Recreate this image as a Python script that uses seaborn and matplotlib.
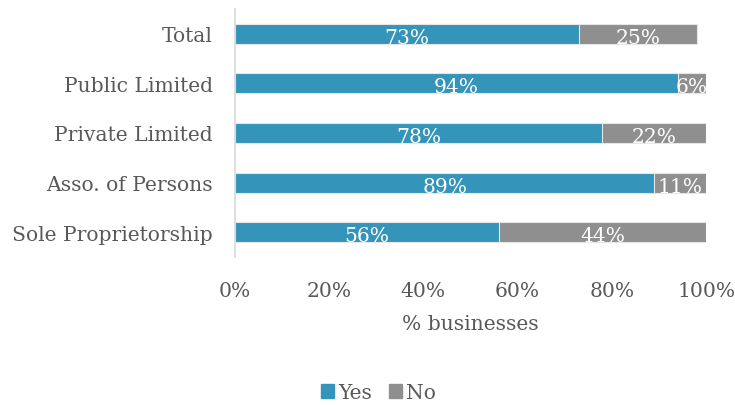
import matplotlib
matplotlib.use("Agg")
import matplotlib.pyplot as plt
import seaborn as sns
import pandas as pd
from matplotlib.patches import Patch

categories = ["Total", "Public Limited", "Private Limited", "Asso. of Persons", "Sole Proprietorship"]
yes_pct = [73, 94, 78, 89, 56]
no_pct = [25, 6, 22, 11, 44]
xticks = [0, 20, 40, 60, 80, 100]

YES_COLOR = "#3494BA"
NO_COLOR = "#8F8F8F"
TEXT_COLOR = "#595959"

sns.set_theme(style="white")
plt.rcParams["font.family"] = ["DejaVu Serif"]

df = pd.DataFrame({"category": categories, "Yes": yes_pct, "No": no_pct})
df["Total"] = df["Yes"] + df["No"]

fig = plt.figure(figsize=(7.35, 4.06), dpi=100)
ax = fig.add_axes([0.3197, 0.3645, 0.641, 0.611])

# stacked: full length in grey, then the "Yes" part in blue on top
sns.barplot(data=df, y="category", x="Total", order=categories, color=NO_COLOR,
            width=0.4, edgecolor="#E6E6E6", linewidth=0.8, ax=ax, saturation=1)
sns.barplot(data=df, y="category", x="Yes", order=categories, color=YES_COLOR,
            width=0.4, edgecolor="#E6E6E6", linewidth=0.8, ax=ax, saturation=1)

fs = 14.6
for i, (y, n) in enumerate(zip(yes_pct, no_pct)):
    ax.text(y / 2, i + 0.07, f"{y}%", ha="center", va="center", color="white", fontsize=fs)
    ax.text(y + n / 2, i + 0.07, f"{n}%", ha="center", va="center", color="white", fontsize=fs)

ax.set_xlim(0, 100)
ax.set_ylim(4.5, -0.5)
ax.set_xticks(xticks)
ax.set_xticklabels([f"{t}%" for t in xticks], color=TEXT_COLOR, fontsize=fs)
ax.tick_params(axis="y", labelsize=fs, labelcolor=TEXT_COLOR, length=0, pad=16)
ax.tick_params(axis="x", length=0, pad=17)
ax.set_ylabel("")
ax.set_xlabel("% businesses", color=TEXT_COLOR, fontsize=fs, labelpad=10)

for side in ["top", "right", "bottom"]:
    ax.spines[side].set_visible(False)
ax.spines["left"].set_color("#D9D9D9")
ax.spines["left"].set_linewidth(1.2)

handles = [Patch(color=YES_COLOR, label="Yes"), Patch(color=NO_COLOR, label="No")]
fig.legend(handles=handles, loc="center", bbox_to_anchor=(0.515, 0.03), ncol=2, frameon=False,
           fontsize=fs, labelcolor=TEXT_COLOR, handlelength=0.65, handleheight=0.65,
           handletextpad=0.2, columnspacing=0.8)

fig.savefig("out.png", dpi=100)
